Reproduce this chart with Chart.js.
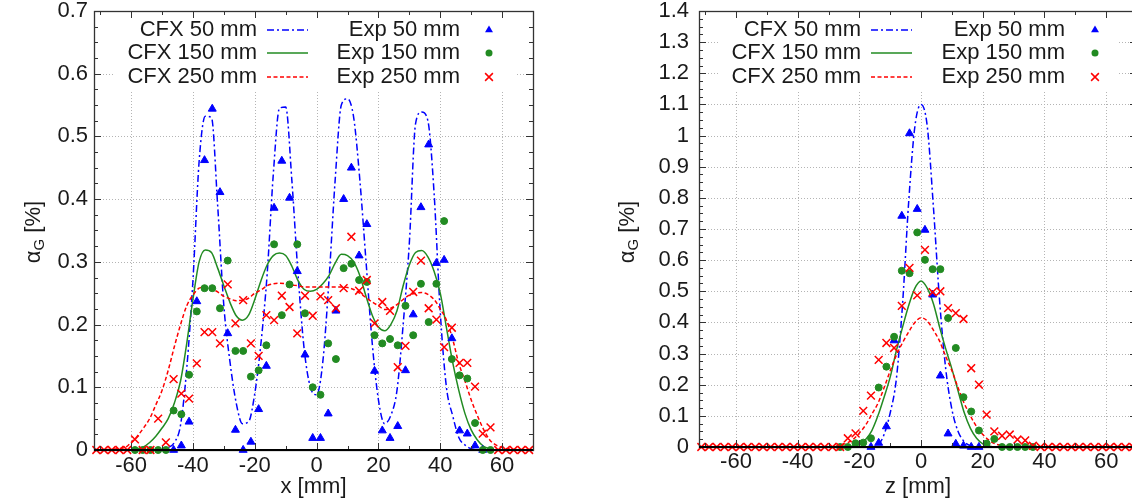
<!DOCTYPE html>
<html>
<head>
<meta charset="utf-8">
<script src="https://cdn.jsdelivr.net/npm/chart.js@4.4.1/dist/chart.umd.min.js"></script>
<style>
  html, body { margin: 0; padding: 0; background: #fff; overflow: hidden; width: 1132px; height: 502px; }
  .panel { position: absolute; top: 0; height: 502px; }
  #panel-x { left: 0; width: 560px; }
  #panel-z { left: 580px; width: 580px; }
</style>
</head>
<body>
<div class="panel" id="panel-x"><canvas id="chart-x" width="560" height="502"></canvas></div>
<div class="panel" id="panel-z"><canvas id="chart-z" width="580" height="502"></canvas></div>
<script>
// ── Measurement positions (mm), same grid for both traverses ──────────────────
const expPos = [-71.25, -68.75, -66.25, -63.75, -61.25, -58.75, -56.25, -53.75, -51.25, -48.75,
  -46.25, -43.75, -41.25, -38.75, -36.25, -33.75, -31.25, -28.75, -26.25, -23.75,
  -21.25, -18.75, -16.25, -13.75, -11.25, -8.75, -6.25, -3.75, -1.25, 1.25,
  3.75, 6.25, 8.75, 11.25, 13.75, 16.25, 18.75, 21.25, 23.75, 26.25,
  28.75, 31.25, 33.75, 36.25, 38.75, 41.25, 43.75, 46.25, 48.75, 51.25,
  53.75, 56.25, 58.75, 61.25, 63.75, 66.25, 68.75];

// ── x traverse: experiment (gas fraction, %) ──────────────────────────────────
const expX50 = [null, null, null, null, null, null, null, null, null, null,
  0, 0.007, 0.045, 0.237, 0.462, 0.544, 0.411, 0.186, 0.032, 0,
  0.013, 0.065, 0.134, 0.386, 0.461, 0.402, 0.285, 0.152, 0.019, 0.019,
  0.058, 0.222, 0.40, 0.45, 0.31, 0.36, 0.126, 0.031, 0.019, 0.038,
  0.127, 0.216, 0.387, 0.487, 0.298, 0.303, 0.178, 0.031, 0.026, 0.007,
  0, null, null, null, null, null, null];
const expX150 = [null, null, null, null, null, 0, 0, 0, 0, 0,
  0.063, 0.057, 0.12, 0.221, 0.258, 0.258, 0.226, 0.302, 0.158, 0.158,
  0.117, 0.127, 0.167, 0.328, 0.215, 0.264, 0.328, 0.218, 0.10, 0.088,
  0.17, 0.145, 0.29, 0.297, 0.271, 0.268, 0.183, 0.17, 0.177, 0.167,
  0.23, 0.183, 0.265, 0.204, 0.265, 0.365, 0.145, 0.119, 0.114, 0.043,
  0, 0, null, null, null, null, null];
const expX250 = [0, 0, 0, 0, 0, 0.017, 0, 0, 0.05, 0.012,
  0.113, 0.09, 0.082, 0.138, 0.188, 0.188, 0.17, 0.264, 0.202, 0.239,
  0.17, 0.15, 0.215, 0.207, 0.246, 0.228, 0.186, 0.246, 0.214, 0.245,
  0.239, 0.226, 0.258, 0.34, 0.254, 0.271, 0.202, 0.236, 0.222, 0.132,
  0.166, 0.252, 0.302, 0.226, 0.208, 0.164, 0.195, 0.139, 0.139, 0.101,
  0.026, 0.036, 0, 0, 0, 0, 0];

// ── x traverse: CFX ──────────────────────────────────────────────────────────
const cfxPosX = [-72, -62, -60, -58, -56, -54, -52, -50, -48, -46, -44, -42, -40, -38, -36, -34,
  -32, -30, -28, -26, -24, -22, -20, -18, -16, -14, -12, -10, -8, -6, -4, -2,
  0, 2, 4, 6, 8, 10, 12, 14, 16, 18, 20, 22, 24, 26, 28, 30,
  32, 34, 36, 38, 40, 42, 44, 46, 48, 50, 52, 54, 56, 58, 60, 62, 70];
const cfxX50 = [0, 0, 0, 0, 0, 0, 0, 0.001, 0.004, 0.012, 0.04, 0.13, 0.27, 0.46, 0.532, 0.53,
  0.39, 0.23, 0.14, 0.075, 0.042, 0.045, 0.09, 0.17, 0.28, 0.44, 0.545, 0.547, 0.43, 0.28, 0.16, 0.1,
  0.088, 0.14, 0.27, 0.43, 0.55, 0.56, 0.53, 0.43, 0.3, 0.17, 0.08, 0.042, 0.055, 0.095, 0.2, 0.33,
  0.52, 0.539, 0.525, 0.41, 0.22, 0.1, 0.055, 0.02, 0.008, 0.002, 0, 0, 0, 0, 0, 0, 0];
const cfxX150 = [0, 0, 0, 0.002, 0.005, 0.012, 0.022, 0.035, 0.05, 0.075, 0.11, 0.17, 0.24, 0.3, 0.319, 0.315,
  0.29, 0.262, 0.235, 0.214, 0.207, 0.215, 0.24, 0.27, 0.295, 0.31, 0.314, 0.31, 0.293, 0.27, 0.256, 0.253,
  0.256, 0.265, 0.278, 0.298, 0.312, 0.31, 0.3, 0.278, 0.245, 0.215, 0.196, 0.19, 0.2, 0.222, 0.262, 0.295,
  0.315, 0.318, 0.308, 0.285, 0.25, 0.195, 0.14, 0.095, 0.058, 0.032, 0.016, 0.006, 0.002, 0, 0, 0, 0];
const cfxX250 = [0, 0.004, 0.012, 0.022, 0.035, 0.05, 0.072, 0.095, 0.127, 0.165, 0.2, 0.23, 0.247, 0.258, 0.26, 0.257,
  0.252, 0.245, 0.241, 0.238, 0.239, 0.242, 0.25, 0.255, 0.262, 0.265, 0.266, 0.265, 0.263, 0.262, 0.26, 0.26,
  0.26, 0.26, 0.26, 0.26, 0.26, 0.259, 0.256, 0.25, 0.243, 0.236, 0.23, 0.224, 0.226, 0.232, 0.24, 0.247,
  0.25, 0.251, 0.248, 0.24, 0.225, 0.207, 0.177, 0.138, 0.11, 0.08, 0.055, 0.033, 0.016, 0.008, 0.004, 0.002, 0];

// ── z traverse: experiment ───────────────────────────────────────────────────
const expZ50 = [null, null, null, null, null, null, null, null, null, null,
  null, null, null, null, null, null, null, null, null, null,
  null, null, 0, 0.013, 0.066, 0.342, 0.742, 1.007, 0.764, 0.697,
  0.489, 0.229, 0.043, 0.01, 0.004, 0, 0, null, null, null,
  null, null, null, null, null, null, null, null, null, null,
  null, null, null, null, null, null, null];
const expZ150 = [null, null, null, null, null, null, null, null, null, null,
  null, null, null, null, null, null, null, null, 0, 0,
  0.012, 0.014, 0.028, 0.191, 0.258, 0.354, 0.566, 0.558, 0.689, 0.601,
  0.571, 0.571, 0.414, 0.318, 0.16, 0.114, 0.053, 0.011, 0.026, 0,
  0, 0, 0, 0, null, null, null, null, null, null,
  null, null, null, null, null, null, null];
const expZ250 = [0, 0, 0, 0, 0, 0, 0, 0, 0, 0,
  0, 0, 0, 0, 0, 0, 0, 0, 0, 0.028,
  0.044, 0.116, 0.165, 0.28, 0.334, 0.318, 0.453, 0.575, 0.487, 0.633,
  0.497, 0.5, 0.446, 0.43, 0.411, 0.253, 0.2, 0.104, 0.05, 0.036,
  0.04, 0.024, 0.021, 0.004, 0, 0, 0, 0, 0, 0,
  0, 0, 0, 0, 0, 0, 0];

// ── z traverse: CFX ──────────────────────────────────────────────────────────
const cfxPosZ = [-72, -30, -28, -26, -24, -22, -20, -18, -16, -14, -12, -10, -8, -6, -4, -2,
  0, 2, 4, 6, 8, 10, 12, 14, 16, 18, 20, 22, 24, 26, 28, 30, 70];
const cfxZ50 = [0, 0, 0, 0, 0, 0, 0, 0, 0.001, 0.006, 0.04, 0.11, 0.22, 0.46, 0.79, 1.03,
  1.1, 1.03, 0.77, 0.47, 0.25, 0.12, 0.05, 0.017, 0.004, 0, 0, 0, 0, 0, 0, 0, 0];
const cfxZ150 = [0, 0, 0, 0, 0, 0.003, 0.01, 0.024, 0.052, 0.1, 0.16, 0.225, 0.31, 0.385, 0.455, 0.51,
  0.533, 0.51, 0.46, 0.385, 0.315, 0.25, 0.18, 0.11, 0.06, 0.028, 0.01, 0.003, 0, 0, 0, 0, 0];
const cfxZ250 = [0, 0, 0.001, 0.006, 0.013, 0.025, 0.045, 0.07, 0.105, 0.14, 0.19, 0.245, 0.295, 0.335, 0.37, 0.4,
  0.415, 0.405, 0.375, 0.34, 0.29, 0.245, 0.19, 0.14, 0.1, 0.065, 0.04, 0.022, 0.01, 0.005, 0.001, 0, 0];

// ── Axis ticks ────────────────────────────────────────────────────────────────
const posTicks = [-60, -40, -20, 0, 20, 40, 60];
const posMinorTicks = [-70, -50, -30, -10, 10, 30, 50, 70];
const alphaTicksX = [0, 0.1, 0.2, 0.3, 0.4, 0.5, 0.6, 0.7];
const alphaTicksZ = [0, 0.1, 0.2, 0.3, 0.4, 0.5, 0.6, 0.7, 0.8, 0.9, 1, 1.1, 1.2, 1.3, 1.4];

// ── Styles ────────────────────────────────────────────────────────────────────
const FONT = "'Liberation Sans', Arial, sans-serif";
const FONT_SIZE = 22;
const INK = "#1a1a1a";
const BLUE = "#0000ff", GREEN = "#228b22", RED = "#ff0000";

const pairs = (xs, ys) => xs.map((x, i) => ({ x, y: ys[i] })).filter((p) => p.y !== null);

function lineSet(label, xs, ys, color, dash, order) {
  return { label, data: pairs(xs, ys), showLine: true, borderColor: color, backgroundColor: color,
    borderWidth: 1.5, borderDash: dash, pointRadius: 0, cubicInterpolationMode: "monotone",
    clip: false, order };
}

function pointSet(label, xs, ys, color, style, radius, order) {
  return { label, data: pairs(xs, ys), showLine: false, borderColor: color, backgroundColor: color,
    pointStyle: style, pointRadius: radius, pointBorderWidth: style === "crossRot" ? 1.5 : 1,
    pointHoverRadius: radius, clip: false, order };
}

function drawMarker(ctx, style, x, y, r) {
  ctx.beginPath();
  if (style === "circle") {
    ctx.arc(x, y, r, 0, Math.PI * 2); ctx.fill();
  } else if (style === "triangle") {
    ctx.moveTo(x, y - r);
    ctx.lineTo(x + r * 0.866, y + r * 0.5);
    ctx.lineTo(x - r * 0.866, y + r * 0.5);
    ctx.closePath(); ctx.fill();
  } else {
    const d = r * 0.707;
    ctx.moveTo(x - d, y - d); ctx.lineTo(x + d, y + d);
    ctx.moveTo(x + d, y - d); ctx.lineTo(x - d, y + d);
    ctx.stroke();
  }
}

// ── gnuplot-like frame: dotted grid, opaque key box, inward ticks, key, y title ─
const gnuFrame = {
  id: "gnuFrame",
  beforeDatasetsDraw(chart, args, o) {
    const { ctx, chartArea: a, scales: { x, y } } = chart;
    ctx.save();
    ctx.strokeStyle = "#b4b4b4"; ctx.lineWidth = 1; ctx.setLineDash([1, 2]);
    ctx.beginPath();
    posTicks.forEach((v) => { const p = Math.round(x.getPixelForValue(v)) + 0.5; ctx.moveTo(p, a.top); ctx.lineTo(p, a.bottom); });
    o.yTicks.forEach((v) => { const p = Math.round(y.getPixelForValue(v)) + 0.5; ctx.moveTo(a.left, p); ctx.lineTo(a.right, p); });
    ctx.stroke();
    ctx.setLineDash([]);
    ctx.fillStyle = "#fff";
    ctx.fillRect(o.keyBox[0], o.keyBox[1], o.keyBox[2] - o.keyBox[0], o.keyBox[3] - o.keyBox[1]);
    ctx.restore();
  },
  afterDatasetsDraw(chart, args, o) {
    const { ctx, chartArea: a, scales: { x, y } } = chart;
    ctx.save();
    ctx.strokeStyle = "#333"; ctx.lineWidth = 1; ctx.setLineDash([]);
    ctx.beginPath();
    const xt = (v, len) => { const p = Math.round(x.getPixelForValue(v)) + 0.5;
      ctx.moveTo(p, a.bottom); ctx.lineTo(p, a.bottom - len); ctx.moveTo(p, a.top); ctx.lineTo(p, a.top + len); };
    const yt = (v, len) => { const p = Math.round(y.getPixelForValue(v)) + 0.5;
      ctx.moveTo(a.left, p); ctx.lineTo(a.left + len, p); ctx.moveTo(a.right, p); ctx.lineTo(a.right - len, p); };
    posTicks.forEach((v) => xt(v, 7));
    posMinorTicks.forEach((v) => xt(v, 4));
    o.yTicks.forEach((v) => yt(v, 7));
    for (let v = 0.025; v < o.yTicks[o.yTicks.length - 1]; v += 0.025) yt(v, 4);
    ctx.stroke();
    ctx.lineWidth = 1.3;
    ctx.strokeRect(Math.round(a.left) + 0.5, Math.round(a.top) + 0.5, Math.round(a.width), Math.round(a.height));
    ctx.strokeStyle = "#000"; ctx.lineWidth = 2;
    ctx.beginPath(); ctx.moveTo(a.left, a.bottom); ctx.lineTo(a.right, a.bottom); ctx.stroke();

    // key
    ctx.font = `${FONT_SIZE}px ${FONT}`;
    ctx.textAlign = "right"; ctx.textBaseline = "middle";
    let li = 0, pi = 0;
    chart.data.datasets.forEach((ds) => {
      if (ds.showLine) {
        const ky = o.keyRows[li++];
        ctx.fillStyle = INK; ctx.fillText(ds.label, o.keyLineText, ky);
        ctx.strokeStyle = ds.borderColor; ctx.lineWidth = ds.borderWidth; ctx.setLineDash(ds.borderDash);
        ctx.beginPath(); ctx.moveTo(o.keyLine[0], ky); ctx.lineTo(o.keyLine[1], ky); ctx.stroke();
        ctx.setLineDash([]);
      } else {
        const ky = o.keyRows[pi++];
        ctx.fillStyle = INK; ctx.fillText(ds.label, o.keyMarkText, ky);
        ctx.fillStyle = ds.backgroundColor; ctx.strokeStyle = ds.borderColor; ctx.lineWidth = ds.pointBorderWidth;
        drawMarker(ctx, ds.pointStyle, o.keyMark, ky, ds.pointRadius);
      }
    });

    // y title: alpha_G [%]
    ctx.translate(o.titleX, o.titleY);
    ctx.rotate(-Math.PI / 2);
    ctx.fillStyle = INK; ctx.textAlign = "left"; ctx.textBaseline = "middle";
    const big = `${FONT_SIZE}px ${FONT}`, small = `${Math.round(FONT_SIZE * 0.7)}px ${FONT}`;
    ctx.font = big; const wa = ctx.measureText("α").width, wr = ctx.measureText(" [%]").width;
    ctx.font = small; const wg = ctx.measureText("G").width;
    const x0 = -(wa + wg + wr) / 2;
    ctx.font = big; ctx.fillText("α", x0, 0);
    ctx.font = small; ctx.fillText("G", x0 + wa, 6);
    ctx.font = big; ctx.fillText(" [%]", x0 + wa + wg, 0);
    ctx.restore();
  },
};

function makeChart(id, cfg) {
  const tickFont = { family: FONT, size: FONT_SIZE };
  return new Chart(document.getElementById(id), {
    type: "scatter",
    data: {
      datasets: [
        lineSet("CFX 50 mm", cfg.cfxPos, cfg.cfx50, BLUE, [7, 3, 2, 3], 6),
        lineSet("CFX 150 mm", cfg.cfxPos, cfg.cfx150, GREEN, [], 5),
        lineSet("CFX 250 mm", cfg.cfxPos, cfg.cfx250, RED, [4, 2.5], 4),
        pointSet("Exp 50 mm", expPos, cfg.exp50, BLUE, "triangle", 4.6, 3),
        pointSet("Exp 150 mm", expPos, cfg.exp150, GREEN, "circle", 3.5, 2),
        pointSet("Exp 250 mm", expPos, cfg.exp250, RED, "crossRot", 5.5, 1),
      ],
    },
    options: {
      responsive: false,
      animation: false,
      events: [],
      layout: { padding: { left: 0, top: cfg.area.top, right: cfg.width - cfg.area.right, bottom: 0 } },
      plugins: {
        legend: { display: false },
        tooltip: { enabled: false },
        gnuFrame: cfg.frame,
      },
      scales: {
        x: {
          type: "linear", min: -72, max: 70,
          grid: { display: false, drawTicks: false }, border: { display: false },
          afterBuildTicks: (s) => { s.ticks = posTicks.map((v) => ({ value: v })); },
          afterFit: (s) => { s.height = 502 - cfg.area.bottom; s.paddingLeft = 0; s.paddingRight = 0; },
          ticks: { autoSkip: false, maxRotation: 0, padding: cfg.xPad, color: INK, font: tickFont },
          title: { display: true, text: cfg.xTitle, color: INK, font: tickFont, padding: { top: 0, bottom: 2 } },
        },
        y: {
          type: "linear", min: 0, max: cfg.frame.yTicks[cfg.frame.yTicks.length - 1],
          grid: { display: false, drawTicks: false }, border: { display: false },
          afterBuildTicks: (s) => { s.ticks = cfg.frame.yTicks.map((v) => ({ value: v })); },
          afterFit: (s) => { s.width = cfg.area.left; s.paddingTop = 0; s.paddingBottom = 0; },
          ticks: { autoSkip: false, padding: cfg.yPad, color: INK, font: tickFont,
            callback: (v) => String(Math.round(v * 10) / 10) },
        },
      },
    },
    plugins: [gnuFrame],
  });
}

makeChart("chart-x", {
  width: 560, area: { left: 94, right: 533, top: 11, bottom: 450 }, xPad: 3, yPad: 6, xTitle: "x [mm]",
  cfxPos: cfxPosX, cfx50: cfxX50, cfx150: cfxX150, cfx250: cfxX250,
  exp50: expX50, exp150: expX150, exp250: expX250,
  frame: { yTicks: alphaTicksX, keyBox: [113, 12, 517, 90], keyRows: [30, 53, 77],
    keyLineText: 257, keyLine: [267, 308], keyMarkText: 460, keyMark: 489, titleX: 34, titleY: 232 },
});

makeChart("chart-z", {
  width: 580, area: { left: 119, right: 557, top: 11, bottom: 447 }, xPad: 2, yPad: 10, xTitle: "z [mm]",
  cfxPos: cfxPosZ, cfx50: cfxZ50, cfx150: cfxZ150, cfx250: cfxZ250,
  exp50: expZ50, exp150: expZ150, exp250: expZ250,
  frame: { yTicks: alphaTicksZ, keyBox: [138, 12, 538, 90], keyRows: [30, 53, 77],
    keyLineText: 281, keyLine: [291, 332], keyMarkText: 485, keyMark: 515, titleX: 48, titleY: 232 },
});
</script>
</body>
</html>
